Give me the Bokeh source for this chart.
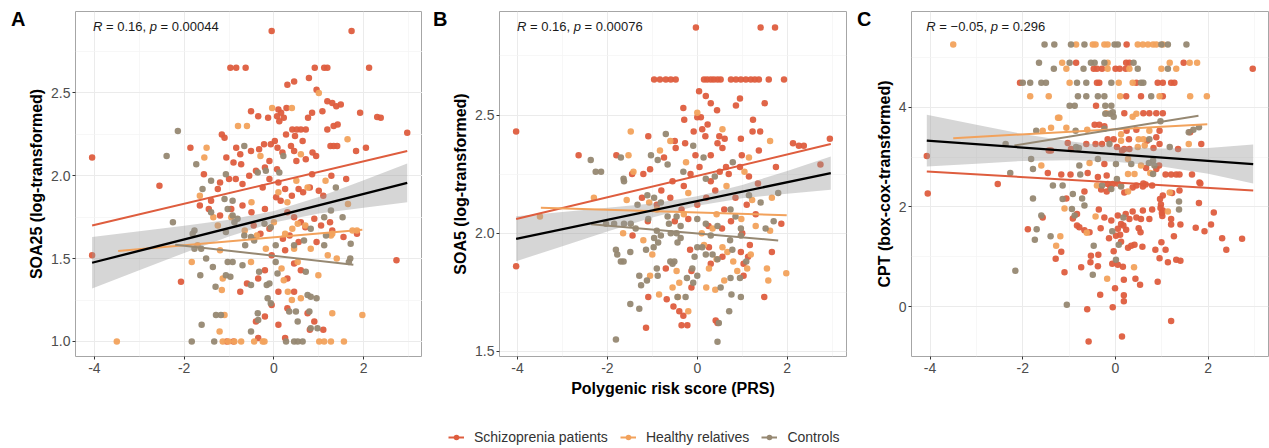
from bokeh.plotting import figure
from bokeh.layouts import row, column
from bokeh.models import FixedTicker, Range1d, Legend, LegendItem, ColumnDataSource, Div
from bokeh.core.properties import field, value
from bokeh.embed import file_html
from bokeh.resources import INLINE

# ---------------- data ----------------
group_labels = ["Schizoprenia patients", "Healthy relatives", "Controls"]
group_colors = ["#DE5D3E", "#F2A25C", "#968872"]

x_ticks = [-4, -2, 0, 2]
x_tick_labels = ["-4", "-2", "0", "2"]
x_minor = [-3, -1, 1, 3]

a_y_ticks = [1.0, 1.5, 2.0, 2.5]
a_y_tick_labels = ["1.0", "1.5", "2.0", "2.5"]
a_y_minor = [1.25, 1.75, 2.25, 2.75]
b_y_ticks = [1.5, 2.0, 2.5]
b_y_tick_labels = ["1.5", "2.0", "2.5"]
b_y_minor = [1.75, 2.25, 2.75]
c_y_ticks = [0, 2, 4]
c_y_tick_labels = ["0", "2", "4"]
c_y_minor = [-1, 1, 3, 5]

# Panel A: SOA25
a_scz = [(-4.05,2.11),(-4.05,1.52),(-2.55,1.94),(-2.07,1.36),(2.73,1.49),(2.97,2.26),
(-0.05,2.875),(1.73,2.875),
(-0.97,2.653),(-0.84,2.653),(-0.63,2.653),(0.91,2.653),(1.12,2.653),(1.19,2.653),(2.12,2.653),
(0.30,2.55),(0.45,2.57),(0.78,2.59),(0.95,2.52),(1.19,2.45),(1.30,2.44),(1.39,2.42),(1.49,2.43),
(-0.51,2.39),(-0.35,2.36),(-0.13,2.35),(0.10,2.40),(0.16,2.38),(0.22,2.35),(0.07,2.36),(0.12,2.33),(0.28,2.41),
(0.85,2.38),(0.76,2.35),(1.08,2.39),(1.92,2.38),(2.30,2.355),(2.38,2.35),
(-1.16,2.25),(-1.10,2.23),(0.27,2.25),(0.41,2.28),(0.51,2.28),(0.60,2.28),(0.71,2.28),(0.47,2.24),(0.64,2.21),(1.33,2.30),(1.42,2.31),(1.19,2.28),
(-0.84,2.17),(-0.75,2.13),(-1.86,2.17),(-1.56,2.01),(-1.06,2.11),(-0.90,2.08),(-0.73,2.07),(-0.51,2.15),(-0.33,2.16),(-0.22,2.19),(-0.07,2.19),(0.02,2.21),(0.08,2.17),(0.19,2.14),(0.38,2.18),(0.45,2.15),(0.86,2.14),(0.94,2.12),(1.26,2.18),(1.33,2.18),(1.41,2.18),(1.83,2.15),(2.05,2.17),
(0.50,2.09),(0.71,2.10),(-0.10,2.09),(-0.20,2.05),(0.07,2.04),(0.85,2.01),(1.28,2.0),(1.61,1.98),
(-1.20,1.96),(-1.0,1.98),(-0.85,1.98),(-0.70,1.95),(-0.55,2.0),(-0.40,2.03),(-0.25,1.93),(-0.1,1.98),(0.1,1.96),(0.25,1.92),(0.40,1.88),(0.55,1.92),(0.65,1.90),(0.80,1.93),(1.0,1.91),(1.1,1.88),
(-1.25,1.92),(-1.4,1.85),(-1.65,1.82),(-1.45,1.8),(-1.2,1.76),(-0.95,1.8),(-0.7,1.82),(-0.5,1.78),(-0.2,1.8),(0.05,1.87),(0.15,1.85),(0.3,1.78),(0.45,1.75),(0.6,1.72),(0.7,1.69),(0.9,1.74),(1.05,1.7),(1.25,1.72),(1.3,1.67),(1.55,1.63),(1.85,1.65),
(-0.45,1.7),(-0.3,1.65),(-0.1,1.68),(0.2,1.62),(0.35,1.64),(0.55,1.6),(0.95,1.6),
(0.25,1.55),(-0.05,1.52),(0.45,1.47),(0.6,1.43),(0.3,1.38),(-0.2,1.43),(-0.35,1.38),(-0.6,1.35),(-0.75,1.3),(0.1,1.3),(0.45,1.3),
(0.3,1.2),(-0.05,1.22),(-0.2,1.15),(-0.4,1.12),(0.1,1.1),(0.75,1.17),(0.8,1.07),(1.1,1.07),(-0.35,1.02),(0.25,1.02),(-1.05,1.0),(-0.9,1.0),(0.9,1.12)]
a_rel = [(-3.5,1.0),(-1.14,1.0),(-1.01,1.0),(-0.88,1.0),(-0.73,1.0),(-0.44,1.0),(-0.25,1.0),(-0.21,1.0),(1.01,1.0),(1.12,1.0),(1.27,1.0),(1.56,1.0),
(-1.83,1.48),(-1.14,1.38),(-1.16,1.31),(-1.21,1.06),(-1.10,1.16),(-0.51,1.48),(-0.18,1.56),(0.17,1.44),(0.22,1.37),(0.31,1.30),(0.40,1.25),(0.53,1.48),(0.45,1.56),(0.60,1.26),(0.99,1.40),(1.30,1.17),(1.97,1.16),
(0.82,1.56),(1.27,1.64),(1.75,1.67),(0.41,1.68),(0.53,1.71),(-0.38,1.64),
(-0.8,2.3),(-0.6,2.3),(-0.04,2.41),(0.4,2.41),(1.0,2.5),(1.64,2.22),
(-1.5,2.17),(-1.55,2.11),(-0.3,2.12),(0.6,2.13),(-1.65,1.88),(-1.35,1.75),(-0.5,1.84),(0.1,1.9),(0.3,1.84),(0.5,1.97),(0.75,1.93),(1.15,1.97),(1.65,1.83),(-0.95,1.75),(-1.25,1.7),(-0.65,1.67),(0.0,1.72),(0.25,1.65),(0.7,1.7),(1.3,1.65),(1.85,1.67),(-1.2,1.55),(1.2,1.52),(1.4,1.5),(-1.7,1.58)]
a_ctl = [(-2.14,2.27),(-2.39,2.12),(-1.73,2.07),(-0.66,2.18),(0.21,2.12),(-1.40,1.97),(-1.07,2.01),(-0.36,2.02),(-0.18,2.03),(0.12,2.02),(1.38,1.93),
(-1.59,1.92),(-1.10,1.86),(-0.92,1.85),(-1.40,1.78),(-1.03,1.80),(-0.92,1.76),(-0.88,1.72),(-0.81,1.74),(-1.07,1.66),(-0.66,1.64),(-0.51,1.63),(-0.44,1.61),(-0.64,1.58),(-0.21,1.71),(-0.07,1.69),(0.04,1.58),(0.45,1.58),(0.82,1.68),(1.12,1.75),(1.27,1.79),(1.53,1.75),(1.71,1.59),(1.70,1.50),(1.16,1.64),(1.12,1.58),(0.67,1.61),(1.67,1.48),
(-2.25,1.72),(-1.77,1.67),(-1.81,1.65),(-1.77,1.56),(-1.62,1.56),(-1.51,1.50),(-1.36,1.45),(-1.64,1.40),(-1.30,1.33),(-1.07,1.40),(-0.97,1.39),(-1.03,1.48),(-0.92,1.48),(-0.70,1.46),(-0.51,1.34),(-0.33,1.42),(-0.16,1.34),(-0.10,1.35),(-0.14,1.26),(-0.07,1.23),(-0.36,1.17),(-0.35,1.13),(-0.51,1.06),(0.04,1.48),(0.08,1.41),(0.71,1.42),(0.75,1.28),(0.82,1.27),(0.95,1.26),(0.53,1.12),(0.79,1.18),(0.82,1.08),(0.97,1.08),(0.34,1.18),(0.49,1.18),(-1.29,1.16),(-1.18,1.16),(-1.61,1.10),
(-1.83,1.0),(-1.33,1.0),(0.27,1.0),(0.45,1.0),(0.53,1.0),(0.64,1.0)]
a_fit_scz = [(-4.05,1.70),(2.97,2.15)]
a_fit_rel = [(-3.47,1.546),(1.97,1.675)]
a_fit_ctl = [(-2.20,1.584),(1.77,1.463)]
a_fit_all = [(-4.05,1.475),(2.97,1.957)]
a_band_x = [-4.05,-3,-2,-1,0,1,2,2.97]
a_band_lo = [1.319,1.429,1.534,1.634,1.718,1.772,1.807,1.840]
a_band_hi = [1.631,1.665,1.698,1.734,1.788,1.872,1.973,2.074]

# Panel B: SOA5
b_scz = [(-4.03,2.43),(-4.03,1.86),(-0.03,2.87),(1.41,2.87),(1.73,2.87),
(-0.96,2.65),(-0.83,2.65),(-0.70,2.65),(-0.59,2.65),(-0.48,2.65),(0.15,2.65),(0.22,2.65),(0.30,2.65),(0.37,2.65),(0.45,2.65),(0.52,2.65),(0.75,2.65),(0.86,2.65),(0.97,2.65),(1.08,2.65),(1.19,2.65),(1.28,2.65),(1.37,2.65),(1.59,2.65),(1.93,2.65),
(0.04,2.60),(0.19,2.58),(0.30,2.55),(0.86,2.54),(0.95,2.57),(1.50,2.55),(1.24,2.48),(0.44,2.52),(-0.31,2.53),(-0.29,2.48),(-0.08,2.43),(0.0,2.49),(0.08,2.49),(0.11,2.44),(0.23,2.46),(0.18,2.41),(0.49,2.41),(0.61,2.40),(0.97,2.40),(1.23,2.43),(1.40,2.43),(0.45,2.38),(0.56,2.36),(-1.09,2.41),(-1.80,2.33),(-2.64,2.33),(-0.50,2.39),(-0.48,2.36),(-0.27,2.38),(-0.74,2.32),(-0.04,2.33),(0.30,2.33),(0.99,2.33),(0.64,2.28),(1.37,2.35),(2.13,2.38),(2.26,2.37),(2.37,2.37),(2.95,2.40),(2.74,2.29),
(-1.23,2.15),(-1.45,2.25),(-1.2,2.25),(-1.05,2.27),(-0.8,2.18),(-0.55,2.22),(-0.3,2.20),(-0.15,2.25),(0.05,2.28),(0.3,2.22),(0.5,2.26),(0.7,2.25),(0.95,2.28),(1.15,2.24),(1.35,2.21),(1.75,2.28),(-0.9,2.12),(-0.6,2.15),(-0.35,2.10),(0.0,2.12),(0.2,2.15),(0.4,2.18),(0.6,2.10),(0.85,2.15),(1.1,2.12),(1.3,2.08),(-1.1,2.05),(-0.5,2.05),(-0.2,2.06),(0.25,2.03),(0.55,2.02),(0.75,2.05),(1.0,2.0),(1.87,2.04),
(-1.44,1.99),(-0.16,1.93),(0.26,1.94),(0.97,1.92),(1.17,1.95),(1.66,1.92),(0.56,1.90),(1.13,1.90),(1.03,1.87),(0.30,1.87),(-0.70,1.85),(-0.13,1.84),(1.03,1.82),(-0.13,1.77),(-1.09,1.73),(-0.68,1.72),(-0.53,1.69),(1.49,1.73),(-0.31,1.65),(-0.40,1.67),(-0.35,1.61),(-0.22,1.61),(0.41,1.63),(0.45,1.62),(-1.14,1.60)]
b_rel = [(-3.5,2.07),(-1.48,2.43),(0.0,2.51),(0.56,2.44),(1.62,2.39),(-0.83,2.35),(-0.60,2.39),(-1.53,2.33),(-1.42,2.26),(1.15,2.32),(1.05,2.26),(-1.57,2.14),(-1.07,2.13),(-1.20,1.97),(-1.0,1.91),(-0.46,1.84),(-0.40,1.79),(-0.43,1.73),(-0.85,1.74),(-1.05,1.82),(-0.20,1.67),(0.26,1.85),(0.34,2.02),(0.40,1.76),(0.43,1.89),(0.56,1.94),(0.67,1.92),(0.80,1.88),(0.89,1.84),(1.11,1.85),(1.19,1.91),(1.30,2.03),(1.58,1.80),(1.62,2.01),(1.98,1.83),(1.66,2.15),(1.22,2.14),(0.98,2.06),(0.43,2.08),(-0.20,2.17),(-2.3,2.15),(-1.65,2.0),(-0.25,2.3),(0.65,2.2),(0.1,2.0),(-0.9,2.1),(1.55,1.85),(0.15,1.95),(-0.55,1.77),(0.2,1.77),(-0.3,2.08),(0.6,1.8)]
b_ctl = [(-2.37,2.31),(-2.26,2.26),(-2.14,2.26),(-1.70,2.32),(-1.64,2.23),(-1.03,2.33),(-0.88,2.31),(-0.70,2.42),(-0.66,2.29),(-0.31,2.26),(-0.09,2.37),(0.14,2.32),(0.19,2.23),(0.39,2.24),(0.79,2.30),
(-1.63,2.22),(-1.33,2.12),(-1.11,2.16),(-0.96,2.15),(-0.81,2.13),(-2.03,2.04),(-1.85,2.04),(-1.63,2.04),(-1.48,2.04),(-1.37,2.02),(-1.09,2.06),(-0.66,2.07),(-0.63,2.04),(-0.46,2.07),(-0.37,2.03),(-0.90,2.01),(-0.81,1.99),(-0.59,2.0),(0.0,2.06),(0.19,2.04),(0.45,2.03),(0.74,2.10),(0.85,2.07),(0.97,2.02),(1.15,2.16),(1.41,2.13),(1.80,2.17),(1.70,2.05),(1.52,2.02),
(-1.81,1.93),(-1.78,1.91),(-1.70,1.88),(-1.64,1.88),(-1.49,1.92),(-0.96,1.98),(-0.87,1.96),(-0.97,1.94),(-1.14,1.93),(-0.44,1.96),(-0.46,2.0),(-0.37,1.98),(0.0,1.94),(-0.06,1.90),(0.11,1.94),(0.30,1.99),(0.19,1.91),(0.34,1.91),(0.45,1.89),(0.73,1.97),(0.78,1.93),(0.97,1.99),(1.09,1.88),(-0.60,1.88),(-0.55,1.87),(-0.90,1.85),(-1.29,1.82),(-1.25,1.78),(-1.12,1.80),(-0.88,1.82),(-0.51,1.88),(-0.23,1.81),(-0.09,1.79),(-0.11,1.85),(0.0,1.82),(-1.49,1.70),(-1.29,1.68),(-0.44,1.73),(-0.26,1.73),(0.74,1.81),(0.95,1.81),(0.52,1.77),(0.97,1.73),(0.76,1.74),(0.71,1.67),(-1.81,1.55),(0.45,1.54),(0.48,1.62)]
b_fit_scz = [(-4.03,2.06),(2.97,2.377)]
b_fit_rel = [(-3.48,2.108),(1.99,2.076)]
b_fit_ctl = [(-2.36,2.038),(1.80,1.969)]
b_fit_all = [(-4.03,1.976),(2.97,2.254)]
b_band_x = [-4.03,-3,-2,-1,0,1,2,2.97]
b_band_lo = [1.881,1.945,2.007,2.066,2.116,2.148,2.167,2.184]
b_band_hi = [2.071,2.089,2.107,2.126,2.156,2.204,2.263,2.324]

# Panel C: CPT
c_scz = [(-4.07,3.02),(-4.05,2.27),(-2.54,2.46),(2.96,4.77),(0.24,5.26),
(-0.85,4.89),(0.23,4.89),(0.30,4.89),(1.47,4.89),
(-0.47,4.77),(-0.40,4.77),(-0.29,4.77),(0.0,4.77),(0.09,4.77),(0.22,4.77),
(-2.06,4.49),(-0.40,4.49),(-0.35,4.49),(0.45,4.49),(0.91,4.49),(1.02,4.49),(1.20,4.49),(1.27,4.49),
(0.23,4.22),(0.55,4.22),(1.02,4.22),(-0.42,4.03),
(0.19,3.88),(0.60,3.88),(0.73,3.88),(0.88,3.88),(1.02,3.88),
(-0.45,3.65),(-0.35,3.65),(-0.24,3.62),
(0.95,3.53),(0.45,3.55),(0.24,3.53),(1.61,3.50),
(-0.17,3.36),(-0.04,3.36),(0.29,3.36),(0.88,3.40),
(-1.44,3.13),(-1.39,3.13),(-1.03,3.28),(-0.96,3.16),(-0.63,3.26),(-0.43,3.26),(-0.29,3.26),(0.03,3.20),(0.14,3.13),(0.19,3.16),(0.30,3.16),(0.68,3.33),(0.82,3.18),(0.95,3.26),(1.35,3.16),(1.85,3.26),
(-0.24,2.86),(0.88,2.76),(0.66,2.78),(0.94,2.83),
(1.08,2.65),(1.20,2.65),(1.31,2.65),(1.38,2.65),(1.65,2.65),(1.81,2.49),
(-1.46,2.68),(-1.17,2.65),(-0.97,2.65),(-0.60,2.68),(-0.38,2.60),(-0.19,2.63),
(-0.17,2.46),(-0.06,2.46),(0.05,2.47),(0.45,2.43),(0.60,2.47),(0.65,2.45),(0.79,2.43),(1.83,2.47),
(-1.06,2.17),(-0.67,2.31),(-1.57,1.79),(-1.89,1.55),(-1.17,1.10),(-1.29,0.96),(-1.10,0.69),(-0.61,-0.05),(-0.58,-0.70),(0.14,-0.60),(-0.06,-0.01),(1.20,-0.29),
(-0.92,1.77),(-0.83,1.86),(-0.83,1.63),(-0.78,1.59),(-0.67,1.53),(-0.56,1.49),(-0.36,1.95),(-0.24,1.79),(-0.09,1.73),(0.05,1.83),(0.22,1.86),(-0.32,1.57),(0.05,1.56),(0.10,1.44),(0.17,1.63),(0.23,1.54),(0.30,1.76),(0.37,1.91),(0.45,1.79),(0.55,1.76),(0.59,1.93),(0.73,1.76),(0.79,1.95),(0.96,2.16),(1.02,1.93),(1.20,1.76),(1.40,1.65),(1.20,1.65),(1.80,2.08),(2.12,1.89),(2.06,1.65),(1.73,1.58),(1.92,1.51),(2.30,1.37),(2.39,1.14),(2.73,1.36),
(0.98,2.05),(0.97,1.98),(1.00,1.88),(1.01,1.82),
(-0.14,1.37),(0.01,1.42),(0.12,1.30),(0.27,1.18),(0.34,1.22),(0.41,1.24),(0.58,1.20),(0.54,1.49),(0.50,1.57),(0.86,1.14),(0.99,1.29),(1.08,1.14),(1.26,1.41),
(-0.53,1.02),(-0.37,1.04),(-0.54,0.89),(-0.38,0.81),(-0.74,0.79),(-0.07,0.86),(-0.04,1.11),(0.05,0.84),(0.16,0.80),(0.43,0.56),(0.53,0.44),(0.91,0.50),(0.95,0.97),(1.13,0.89),(1.31,0.94),(1.40,0.92),(-0.01,0.37),(0.18,0.54),(-0.33,0.24),(0.18,0.23),(0.18,0.11),
(-0.31,2.35),(-0.19,2.31),(-0.11,2.39),(0.19,2.29),(0.37,2.39),(0.59,2.41),(1.02,2.23),(1.38,2.33),(1.22,2.28),(0.12,1.66)]
c_rel = [(-3.5,5.26),(-0.85,5.26),(-0.49,5.26),(-0.43,5.26),(-0.24,5.26),(-0.17,5.26),(0.48,5.26),(0.59,5.26),(0.70,5.26),(0.81,5.26),(0.88,5.26),(1.02,5.26),
(-1.15,4.89),(-0.17,4.89),(1.17,4.89),(1.60,4.89),(1.76,4.89),
(-1.06,4.77),(-0.17,4.77),(0.30,4.77),(0.99,4.77),(1.31,4.77),
(-0.99,4.49),(0.07,4.49),(0.37,4.49),
(-1.84,4.22),(-1.44,4.22),(0.10,4.22),(0.95,4.22),(1.61,4.22),(1.97,4.22),
(-0.20,3.88),(0.37,3.81),(0.45,3.87),(-1.24,3.79),(-1.21,3.79),
(-1.57,3.53),(-1.39,3.59),(-1.06,3.59),(-0.61,3.55),(0.73,3.53),(0.12,3.46),(0.12,3.33),(0.50,3.36),(0.60,3.36),(0.48,3.20),(0.63,3.23),(1.58,3.26),
(-1.60,2.83),(-0.56,2.88),(0.27,2.96),(0.55,2.83),(0.27,2.66),(0.41,2.66),(0.75,2.68),(-0.40,2.43),(0.12,2.43),
(-1.10,1.97),(-0.62,1.48),(-0.43,1.81),(1.13,1.91),(-1.19,1.41),(-1.28,1.22),(0.40,0.79),(-0.18,0.56),(0.27,2.31),(1.17,2.29)]
c_ctl = [(-1.53,5.26),(-1.32,5.26),(-0.96,5.26),(-0.67,5.26),(-0.02,5.26),(0.05,5.26),(0.99,5.26),(1.13,5.26),(1.53,5.26),
(-1.65,4.89),(-0.99,4.89),(-0.53,4.89),(-0.45,4.89),(-0.24,4.89),(0.39,4.89),
(-1.33,4.77),(-0.69,4.77),(0.48,4.77),(1.13,4.77),
(-2.0,4.49),(-1.84,4.49),(-1.60,4.49),(-1.50,4.49),(-0.83,4.49),(-0.63,4.49),(-0.09,4.49),(0.55,4.49),(0.60,4.49),
(-0.81,4.22),(-0.63,4.22),(-0.38,4.22),(-0.24,4.22),(0.77,4.22),
(-0.99,4.03),(-0.88,4.03),(-0.22,4.03),(-0.09,4.03),
(-0.06,3.90),(-0.22,3.87),(-0.12,3.87),(-0.04,3.81),(0.97,3.72),
(-1.71,3.53),(-0.86,3.53),(-0.24,3.57),(1.58,3.50),(1.68,3.55),(1.80,3.60),(0.73,3.36),
(-2.37,3.26),(-0.85,3.20),(-0.79,3.18),(-0.13,3.26),(1.17,3.20),
(-1.82,2.96),(-1.78,2.76),(-0.78,2.83),(-0.38,2.96),(0.01,2.86),(0.34,2.86),(0.72,2.88),(0.81,2.93),(0.84,2.83),
(-2.27,2.68),(-0.76,2.65),(0.03,2.56),(0.81,2.66),
(-1.35,2.43),(-1.14,2.43),(-0.29,2.43),
(-1.78,2.17),(-1.60,1.83),(-1.70,1.55),(-1.74,1.34),(-1.40,1.41),(-2.16,0.72),(-1.05,0.04),(-1.14,2.16),(-0.92,2.26),(-0.72,2.17),(-0.94,1.96),(-0.88,1.83),(-0.67,2.03),(0.17,1.79),(-0.07,1.51),(1.37,2.11),(1.37,1.95),(-0.47,1.22),(0.07,1.24),(0.01,0.94),(-0.49,0.64),(-0.09,2.36),(0.12,2.41)]
c_fit_scz = [(-4.07,2.71),(2.97,2.33)]
c_fit_rel = [(-3.50,3.38),(1.98,3.66)]
c_fit_ctl = [(-2.18,3.23),(1.79,3.83)]
c_fit_all = [(-4.07,3.33),(2.97,2.86)]
c_band_x = [-4.07,-3,-2,-1,0,1,2,2.97]
c_band_lo = [2.81,2.868,2.922,2.935,2.908,2.811,2.664,2.47]
c_band_hi = [3.85,3.648,3.462,3.315,3.208,3.171,3.184,3.25]

a_stat = ["R", "= 0.16,", "p", "= 0.00044"]
b_stat = ["R", "= 0.16,", "p", "= 0.00076"]
c_stat = ["R", "= \u22120.05,", "p", "= 0.296"]
panel_letters = ["A", "B", "C"]

FONT = "Liberation Sans"
H = 411


def xs(pts):
    return [p[0] for p in pts]


def ys(pts):
    return [p[1] for p in pts]


def letter_div(text, width, pad_left):
    return Div(text=text, width=width, height=H, margin=(0, 0, 0, 0),
               styles={"font-family": FONT, "font-size": "20px", "font-weight": "bold",
                       "color": "black", "padding-left": f"{pad_left}px", "padding-top": "8px",
                       "line-height": "23px", "box-sizing": "border-box", "overflow": "visible"})


def panel(width, bl, br, xr, yr, yt, ytl, ym, ytitle, xtitle, pts, fits, fit_all,
          bx, blo, bhi, stat, stat_xy, stat_off):
    p = figure(width=width, height=H, x_range=Range1d(*xr), y_range=Range1d(*yr),
               toolbar_location=None, output_backend="svg",
               min_border_left=bl, min_border_right=br, min_border_top=11, min_border_bottom=55)
    p.margin = (0, 0, 0, 0)
    p.background_fill_color = "white"
    p.border_fill_color = "white"
    p.outline_line_color = "#A6A6A6"
    p.outline_line_width = 1
    xtk = FixedTicker(ticks=x_ticks, minor_ticks=x_minor)
    ytk = FixedTicker(ticks=yt, minor_ticks=ym)
    p.xaxis.ticker = xtk
    p.yaxis.ticker = ytk
    p.xgrid.ticker = xtk
    p.ygrid.ticker = ytk
    p.xaxis.major_label_overrides = {t: l for t, l in zip(x_ticks, x_tick_labels)}
    p.yaxis.major_label_overrides = {t: l for t, l in zip(yt, ytl)}
    for g in (p.xgrid[0], p.ygrid[0]):
        g.grid_line_color = "#EBEBEB"
        g.grid_line_width = 1
        g.minor_grid_line_color = "#F4F4F4"
        g.minor_grid_line_width = 0.7
    for ax in (p.xaxis[0], p.yaxis[0]):
        ax.axis_line_color = None
        ax.major_tick_line_color = "#333333"
        ax.major_tick_out = 3
        ax.major_tick_in = 0
        ax.minor_tick_line_color = None
        ax.major_label_text_font = FONT
        ax.major_label_text_font_size = "14px"
        ax.major_label_text_color = "#4D4D4D"
        ax.major_label_standoff = 1
        ax.axis_label_text_font = FONT
        ax.axis_label_text_font_style = "bold"
        ax.axis_label_text_font_size = "16px"
        ax.axis_label_text_color = "black"
        ax.axis_label_standoff = 3
    p.xaxis.major_label_standoff = 2
    p.xaxis.axis_label_standoff = 4
    p.yaxis.axis_label = ytitle
    if xtitle:
        p.xaxis.axis_label = xtitle

    for gpts, col in zip(pts, group_colors):
        p.scatter(xs(gpts), ys(gpts), size=6.5, fill_color=col, line_color=None, fill_alpha=0.95)
    p.varea(x=bx, y1=blo, y2=bhi, fill_color="#999999", fill_alpha=0.4)
    for f, col in zip(fits, group_colors):
        p.line(xs(f), ys(f), line_color=col, line_width=2)
    p.line(xs(fit_all), ys(fit_all), line_color="black", line_width=2.3)

    src = ColumnDataSource(dict(x=[stat_xy[0]] * 4, y=[stat_xy[1]] * 4, t=stat,
                                off=stat_off, st=["italic", "normal", "italic", "normal"]))
    p.text(x="x", y="y", text="t", x_offset="off", text_font_style=field("st"), source=src,
           text_font=value(FONT), text_font_size=value("13px"), text_color="#1A1A1A",
           text_baseline="middle")
    return p


pa = panel(397, 50, 0, (-4.42, 3.31), (0.909, 2.992), a_y_ticks, a_y_tick_labels, a_y_minor,
           "SOA25 (log-transformed)", None, [a_scz, a_rel, a_ctl],
           [a_fit_scz, a_fit_rel, a_fit_ctl], a_fit_all, a_band_x, a_band_lo, a_band_hi,
           a_stat, (-4.03, 2.903), [0, 13.0, 56.7, 67.5])
pb = panel(401, 52, 2, (-4.40, 3.32), (1.478, 2.938), b_y_ticks, b_y_tick_labels, b_y_minor,
           "SOA5 (log-transformed)", "Polygenic risk score (PRS)", [b_scz, b_rel, b_ctl],
           [b_fit_scz, b_fit_rel, b_fit_ctl], b_fit_all, b_band_x, b_band_lo, b_band_hi,
           b_stat, (-4.01, 2.875), [0, 13.0, 56.7, 67.5])
pc = panel(399, 41, 1, (-4.40, 3.30), (-1.0, 5.92), c_y_ticks, c_y_tick_labels, c_y_minor,
           "CPT (box-cox-transformed)", None, [c_scz, c_rel, c_ctl],
           [c_fit_scz, c_fit_rel, c_fit_ctl], c_fit_all, c_band_x, c_band_lo, c_band_hi,
           c_stat, (-4.08, 5.617), [0, 13.0, 64.3, 75.1])

da = letter_div(panel_letters[0], 25, 11)
db = letter_div(panel_letters[1], 25, 11)
dc = letter_div(panel_letters[2], 22, 9)

lf = figure(width=1269, height=37, toolbar_location=None, output_backend="svg",
            x_range=Range1d(0, 1), y_range=Range1d(0, 1), x_axis_type=None, y_axis_type=None,
            min_border=0, outline_line_color=None)
lf.margin = (0, 0, 0, 0)
lf.grid.visible = False
items = []
for lab, col in zip(group_labels, group_colors):
    # placeholder renderers outside the visible range, used only for the legend keys
    r1 = lf.line(x=[-5, -4], y=[-5, -5], line_color=col, line_width=2)
    r2 = lf.scatter(x=[-5], y=[-5], size=6.5, fill_color=col, line_color=None)
    items.append(LegendItem(label=lab, renderers=[r1, r2]))
leg = Legend(items=items, orientation="horizontal", location=(448, 3), padding=0, margin=0,
             spacing=12, glyph_width=16, glyph_height=14, label_standoff=10,
             label_text_font=FONT, label_text_font_size="14px", label_text_color="#333333",
             background_fill_alpha=0, border_line_color=None)
lf.add_layout(leg)

layout = column(row(da, pa, db, pb, dc, pc, spacing=0), lf, spacing=0)
open("out.html", "w").write(file_html(layout, INLINE))
